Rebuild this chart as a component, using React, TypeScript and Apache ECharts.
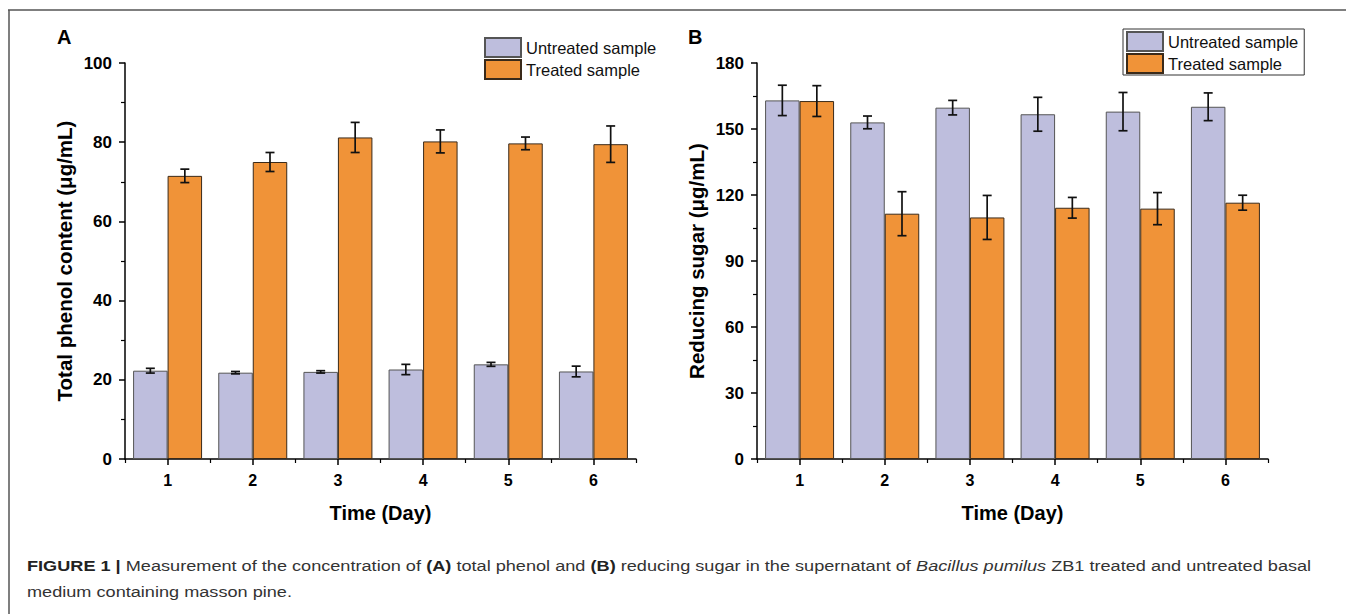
import React, { useEffect, useRef } from "react";
import * as echarts from "echarts";

const days = ["1", "2", "3", "4", "5", "6"];
const seriesNames = ["Untreated sample", "Treated sample"];

const phenolUntreated = [22.3, 21.8, 22.0, 22.6, 23.9, 22.1];
const phenolUntreatedErr = [0.6, 0.3, 0.3, 1.3, 0.5, 1.35];
const phenolTreated = [71.5, 75.0, 81.2, 80.2, 79.7, 79.5];
const phenolTreatedErr = [1.7, 2.4, 3.8, 2.9, 1.6, 4.6];

const sugarUntreated = [163.0, 153.0, 159.7, 156.7, 157.9, 160.1];
const sugarUntreatedErr = [6.9, 2.9, 3.3, 7.7, 8.7, 6.3];
const sugarTreated = [162.7, 111.5, 109.8, 114.2, 113.8, 116.5];
const sugarTreatedErr = [7.0, 10.0, 10.0, 4.7, 7.3, 3.4];

const phenolTicks = { min: 0, max: 100, interval: 20 };
const sugarTicks = { min: 0, max: 180, interval: 30 };

const FONT = "'Liberation Sans', Arial, sans-serif";
const LAVENDER = "#bebedd";
const ORANGE = "#f09338";
const CAT_GAP = 0.19;

function errSeries(values: number[], errs: number[], side: number, xi: number, yi: number) {
  return {
    type: "custom",
    xAxisIndex: xi,
    yAxisIndex: yi,
    z: 10,
    silent: true,
    encode: { x: 0, y: 1 },
    data: values.map((v, i) => [i, v, errs[i]]),
    renderItem: (params: any, api: any) => {
      const idx = api.value(0);
      const v = api.value(1);
      const e = api.value(2);
      const band = api.size([1, 0])[0];
      const barW = (band * (1 - CAT_GAP)) / 2;
      const c = api.coord([idx, v]);
      const x = c[0] + (side * barW) / 2;
      const top = api.coord([idx, v + e])[1];
      const bot = api.coord([idx, v - e])[1];
      const cap = 4.5;
      const st = { stroke: "#111", lineWidth: 1.7 };
      return {
        type: "group",
        children: [
          { type: "line", shape: { x1: x, y1: top, x2: x, y2: bot }, style: st },
          { type: "line", shape: { x1: x - cap, y1: top, x2: x + cap, y2: top }, style: st },
          { type: "line", shape: { x1: x - cap, y1: bot, x2: x + cap, y2: bot }, style: st },
        ],
      };
    },
  };
}

function barSeries(name: string, values: number[], color: string, border: string, xi: number, yi: number) {
  return {
    type: "bar",
    name,
    xAxisIndex: xi,
    yAxisIndex: yi,
    data: values,
    barGap: "0%",
    barCategoryGap: CAT_GAP * 100 + "%",
    itemStyle: { color, borderColor: border, borderWidth: 1 },
  };
}

function yAxis(grid: number, ticks: any, name: string, gap: number) {
  return {
    type: "value",
    gridIndex: grid,
    min: ticks.min,
    max: ticks.max,
    interval: ticks.interval,
    name,
    nameLocation: "middle",
    nameRotate: 90,
    nameGap: gap,
    nameTextStyle: { fontFamily: FONT, fontWeight: "bold", fontSize: 20.5, color: "#000" },
    axisLine: { show: true, lineStyle: { color: "#000", width: 1.5 } },
    axisTick: { show: true, inside: false, length: 6, lineStyle: { color: "#000", width: 1.5 } },
    minorTick: { show: true, splitNumber: 2, length: 4, lineStyle: { color: "#000", width: 1.2 } },
    splitLine: { show: false },
    axisLabel: { margin: 13, fontFamily: FONT, fontWeight: "bold", fontSize: 17, color: "#000" },
  };
}

function xMain(grid: number) {
  return {
    type: "category",
    gridIndex: grid,
    data: days,
    position: "bottom",
    name: "Time (Day)",
    nameLocation: "middle",
    nameGap: 44,
    nameTextStyle: { fontFamily: FONT, fontWeight: "bold", fontSize: 20, color: "#000" },
    axisLine: { show: true, lineStyle: { color: "#000", width: 1.5 } },
    axisTick: { show: true, alignWithLabel: true, length: 6, lineStyle: { color: "#000", width: 1.5 } },
    axisLabel: { margin: 13, fontFamily: FONT, fontWeight: "bold", fontSize: 16, color: "#000" },
  };
}

function xMinor(grid: number) {
  return {
    type: "category",
    gridIndex: grid,
    data: days,
    position: "bottom",
    offset: 0,
    axisLine: { show: false },
    axisTick: { show: true, alignWithLabel: false, interval: 0, length: 4, lineStyle: { color: "#000", width: 1.2 } },
    axisLabel: { show: false },
  };
}

function legend(left: number, top: number, bordered: boolean) {
  return {
    data: seriesNames,
    orient: "vertical",
    left,
    top,
    icon: "rect",
    itemWidth: 36,
    itemHeight: 19,
    itemGap: 1,
    padding: bordered ? [2, 6, 1, 3] : 0,
    borderColor: bordered ? "#333" : "transparent",
    borderWidth: bordered ? 1 : 0,
    selectedMode: false,
    textStyle: { fontFamily: FONT, fontSize: 16.5, color: "#111" },
  };
}

export default function App() {
  const ref = useRef<HTMLDivElement>(null);
  useEffect(() => {
    if (!ref.current) return;
    const chart = echarts.init(ref.current, undefined, { renderer: "svg" });
    chart.setOption({
      animation: false,
      backgroundColor: "#fff",
      grid: [
        { left: 125, top: 63, width: 511, height: 396 },
        { left: 757, top: 63, width: 511, height: 396 },
      ],
      xAxis: [xMain(0), xMinor(0), xMain(1), xMinor(1)],
      yAxis: [
        yAxis(0, phenolTicks, "Total phenol content (\u03bcg/mL)", 50),
        yAxis(1, sugarTicks, "Reducing sugar (\u03bcg/mL)", 50),
      ],
      legend: [legend(484, 37, false), legend(1123, 29, true)],
      series: [
        barSeries(seriesNames[0], phenolUntreated, LAVENDER, "#555", 0, 0),
        barSeries(seriesNames[1], phenolTreated, ORANGE, "#3a2a1a", 0, 0),
        errSeries(phenolUntreated, phenolUntreatedErr, -1, 0, 0),
        errSeries(phenolTreated, phenolTreatedErr, 1, 0, 0),
        barSeries(seriesNames[0], sugarUntreated, LAVENDER, "#555", 2, 1),
        barSeries(seriesNames[1], sugarTreated, ORANGE, "#3a2a1a", 2, 1),
        errSeries(sugarUntreated, sugarUntreatedErr, -1, 2, 1),
        errSeries(sugarTreated, sugarTreatedErr, 1, 2, 1),
      ],
      graphic: [
        { type: "line", shape: { x1: 8, y1: 10, x2: 1346, y2: 10 }, style: { stroke: "#555", lineWidth: 1.5 } },
        { type: "line", shape: { x1: 9, y1: 10, x2: 9, y2: 614 }, style: { stroke: "#555", lineWidth: 1.5 } },
        {
          type: "text",
          x: 57,
          y: 27,
          style: { text: "A", fontFamily: FONT, fontWeight: "bold", fontSize: 20, fill: "#000" },
        },
        {
          type: "text",
          x: 688,
          y: 27,
          style: { text: "B", fontFamily: FONT, fontWeight: "bold", fontSize: 20, fill: "#000" },
        },
        {
          type: "text",
          x: 27,
          y: 558,
          scaleX: 1.17,
          style: {
            text:
              "{b|FIGURE 1 | }{n|Measurement of the concentration of }{b|(A)}{n| total phenol and }{b|(B)}{n| reducing sugar in the supernatant of }{i|Bacillus pumilus}{n| ZB1 treated and untreated basal}",
            fontFamily: FONT,
            fontSize: 15.5,
            fill: "#333",
            rich: {
              b: { fontFamily: FONT, fontSize: 15.5, fontWeight: "bold", fill: "#222" },
              n: { fontFamily: FONT, fontSize: 15.5, fill: "#333" },
              i: { fontFamily: FONT, fontSize: 15.5, fontStyle: "italic", fill: "#333" },
            },
          },
        },
        {
          type: "text",
          x: 27,
          y: 584,
          scaleX: 1.17,
          style: { text: "medium containing masson pine.", fontFamily: FONT, fontSize: 15.5, fill: "#333" },
        },
      ],
    });
    return () => chart.dispose();
  }, []);
  return (
    <div
      ref={ref}
      style={{ position: "fixed", left: 0, top: 0, width: 1346, height: 614, background: "#fff" }}
    />
  );
}
